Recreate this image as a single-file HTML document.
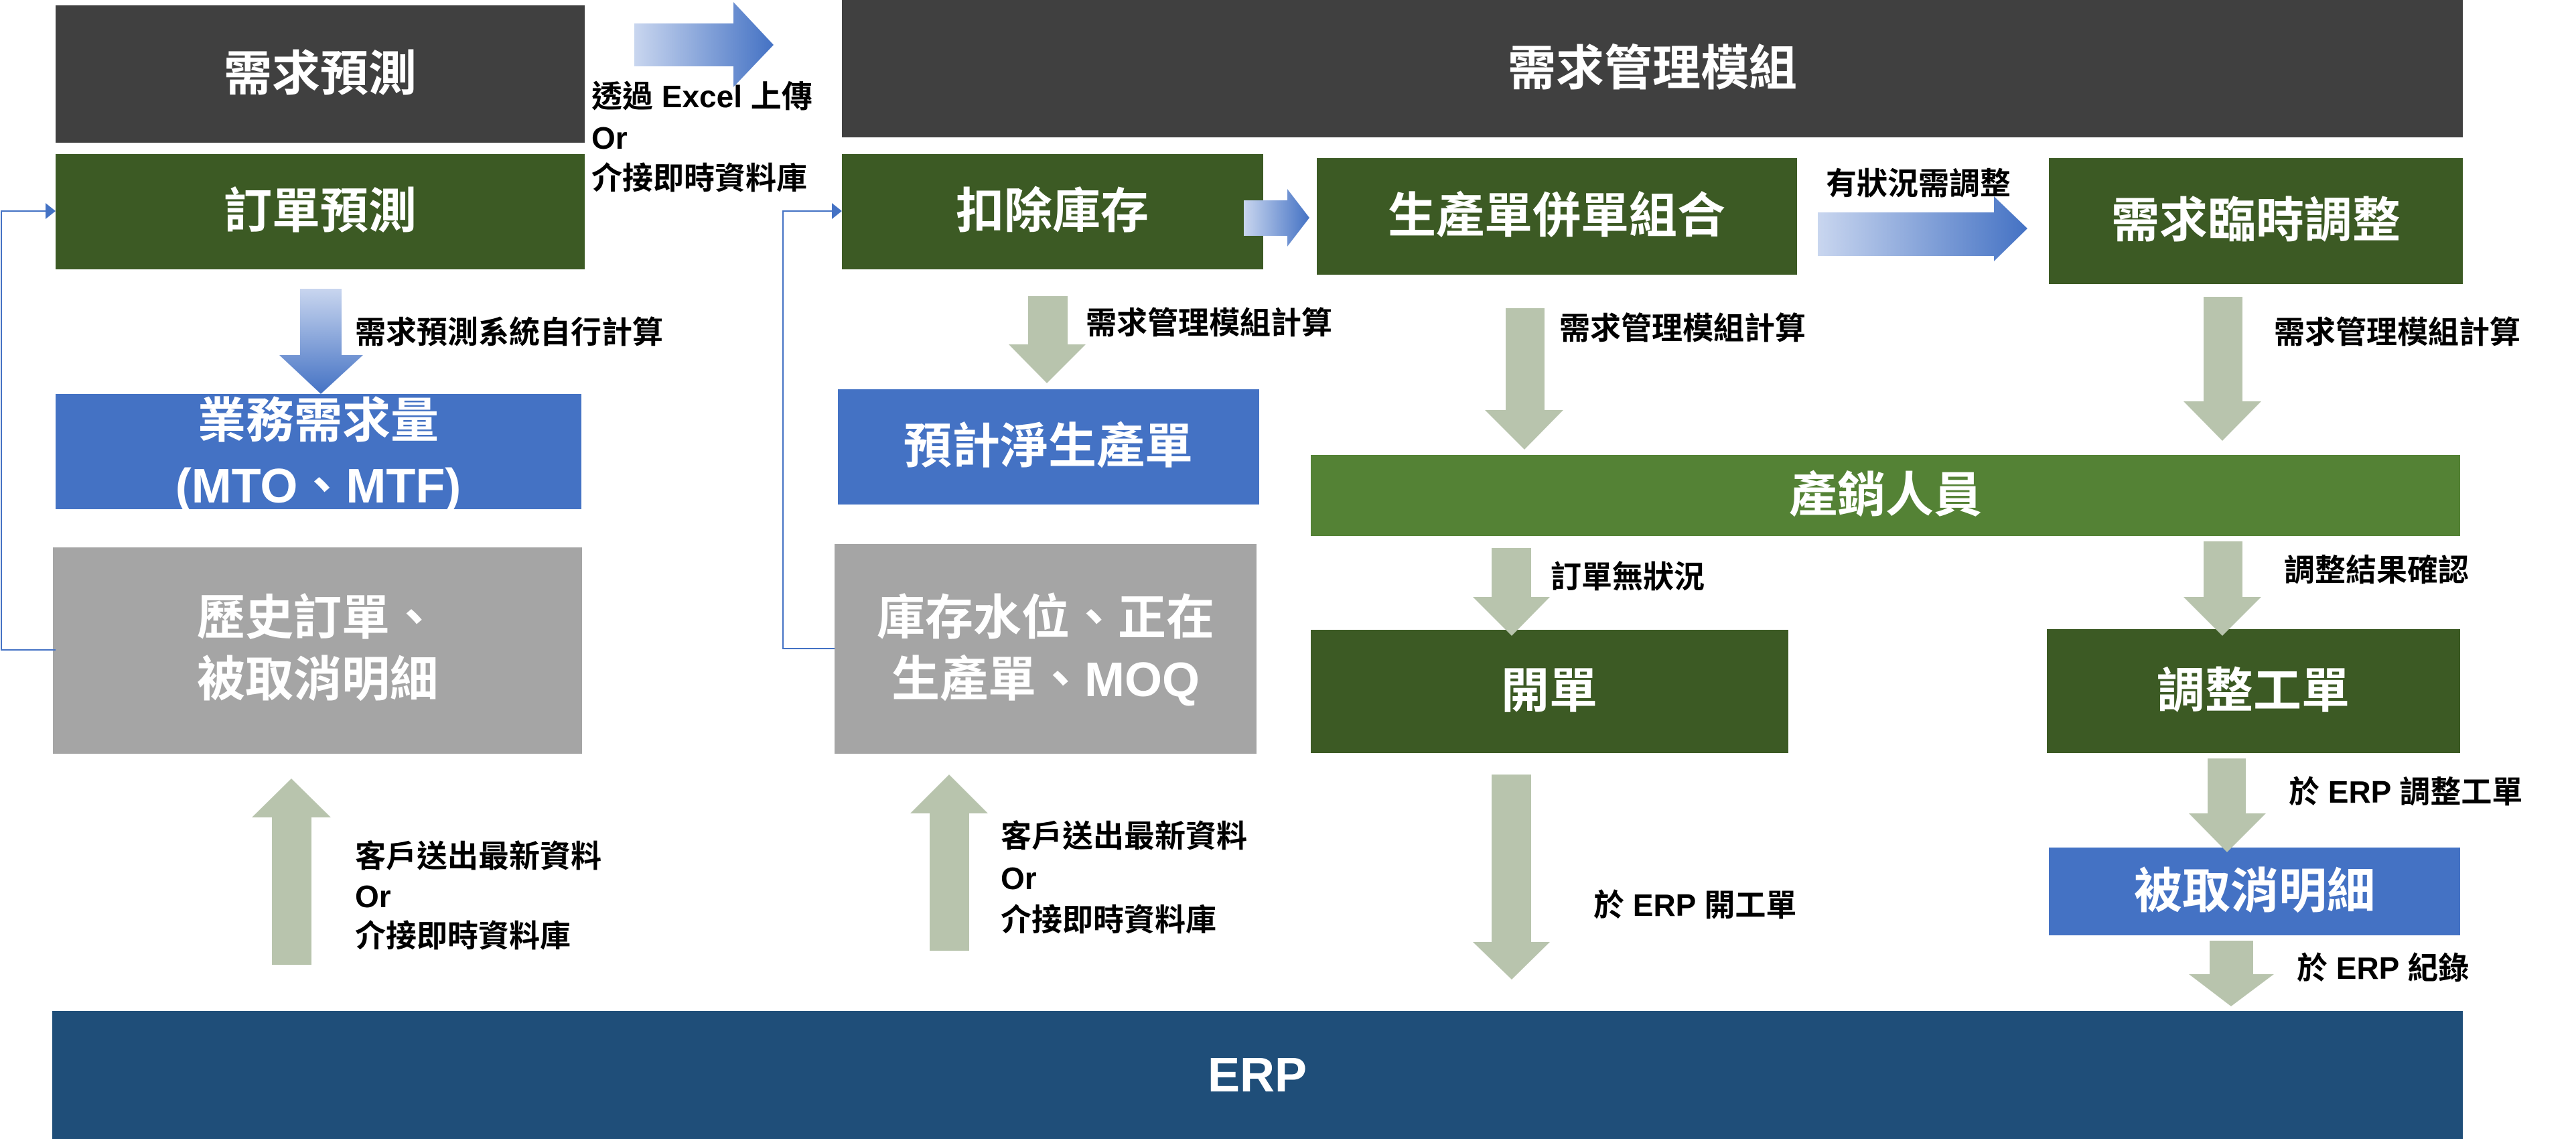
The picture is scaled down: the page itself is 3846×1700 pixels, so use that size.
<!DOCTYPE html>
<html><head><meta charset="utf-8"><style>
html,body{margin:0;padding:0;background:#fff;}
svg{display:block}
text{font-family:"Liberation Sans","Noto Sans CJK TC",sans-serif;font-weight:bold;}
.w{fill:#fff;font-size:72px;text-anchor:middle;dominant-baseline:central}
.l{fill:#000;font-size:46px;dominant-baseline:central}
</style></head><body>
<svg width="3846" height="1700" viewBox="0 0 3846 1700" xmlns="http://www.w3.org/2000/svg">
<defs>
<linearGradient id="gh" x1="0" y1="0" x2="1" y2="0"><stop offset="0" stop-color="#c9d6ef"/><stop offset="1" stop-color="#4472c4"/></linearGradient>
<linearGradient id="gv" x1="0" y1="0" x2="0" y2="1"><stop offset="0" stop-color="#c9d6ef"/><stop offset="1" stop-color="#4472c4"/></linearGradient>
</defs>
<!-- boxes -->
<rect x="83" y="8" width="790" height="205" fill="#404040"/>
<rect x="1257" y="0" width="2420" height="205" fill="#404040"/>
<rect x="83" y="230" width="790" height="172" fill="#3c5a24"/>
<rect x="1257" y="230" width="629" height="172" fill="#3c5a24"/>
<rect x="1966" y="236" width="717" height="174" fill="#3c5a24"/>
<rect x="3059" y="236" width="618" height="188" fill="#3c5a24"/>
<rect x="83" y="588" width="785" height="172" fill="#4472c4"/>
<rect x="1251" y="581" width="629" height="172" fill="#4472c4"/>
<rect x="1957" y="679" width="1716" height="121" fill="#548235"/>
<rect x="79" y="817" width="790" height="308" fill="#a5a5a5"/>
<rect x="1246" y="812" width="630" height="313" fill="#a5a5a5"/>
<rect x="1957" y="940" width="713" height="184" fill="#3c5a24"/>
<rect x="3056" y="939" width="617" height="185" fill="#3c5a24"/>
<rect x="3059" y="1265" width="614" height="131" fill="#4472c4"/>
<rect x="78" y="1509" width="3599" height="191" fill="#1f4e79"/>

<!-- connectors -->
<polyline points="83,970 2,970 2,315 70,315" fill="none" stroke="#4472c4" stroke-width="2"/>
<polygon points="83,315 68,303 68,327" fill="#4472c4"/>
<polyline points="1246,968 1169,968 1169,315 1244,315" fill="none" stroke="#4472c4" stroke-width="2"/>
<polygon points="1257,315 1242,303 1242,327" fill="#4472c4"/>

<!-- blue gradient arrows -->
<polygon points="947,35 1095,35 1095,3 1155,67 1095,130 1095,99 947,99" fill="url(#gh)"/>
<polygon points="1857,299 1922,299 1922,282 1955,325 1922,368 1922,352 1857,352" fill="url(#gh)"/>
<polygon points="2714,317 2977,317 2977,293 3027,341 2977,390 2977,382 2714,382" fill="url(#gh)"/>
<polygon points="448,431 510,431 510,530 542,530 479,588 417,530 448,530" fill="url(#gv)"/>

<!-- gray arrows -->
<g fill="#b8c4ad">
<polygon points="1535,442 1594,442 1594,514 1621,514 1563,572 1506,514 1535,514"/>
<polygon points="2248,460 2306,460 2306,612 2334,612 2276,671 2217,612 2248,612"/>
<polygon points="3290,443 3348,443 3348,599 3376,599 3318,658 3260,599 3290,599"/>
<polygon points="2227,818 2286,818 2286,891 2314,891 2257,949 2199,891 2227,891"/>
<polygon points="3290,808 3348,808 3348,891 3376,891 3318,949 3260,891 3290,891"/>
<polygon points="2227,1156 2286,1156 2286,1406 2314,1406 2257,1462 2199,1406 2227,1406"/>
<polygon points="3296,1132 3353,1132 3353,1214 3383,1214 3325,1272 3268,1214 3296,1214"/>
<polygon points="3299,1404 3364,1404 3364,1454 3395,1454 3331,1502 3268,1454 3299,1454"/>
<polygon points="406,1440 465,1440 465,1220 494,1220 435,1162 376,1220 406,1220"/>
<polygon points="1388,1419 1447,1419 1447,1214 1475,1214 1417,1156 1359,1214 1388,1214"/>
</g>

<!-- box text -->
<text class="w" x="478" y="111">需求預測</text>
<text class="w" x="2467" y="103">需求管理模組</text>
<text class="w" x="478" y="316">訂單預測</text>
<text class="w" x="1571" y="316">扣除庫存</text>
<text class="w" x="2324" y="323">生產單併單組合</text>
<text class="w" x="3368" y="330">需求臨時調整</text>
<text class="w" x="475" y="629">業務需求量</text>
<text class="w" x="475" y="726">(MTO、MTF)</text>
<text class="w" x="1565" y="667">預計淨生產單</text>
<text class="w" x="2815" y="740">產銷人員</text>
<text class="w" x="474" y="923">歷史訂單、</text>
<text class="w" x="474" y="1015">被取消明細</text>
<text class="w" x="1561" y="923">庫存水位、正在</text>
<text class="w" x="1561" y="1015">生產單、MOQ</text>
<text class="w" x="2313" y="1032">開單</text>
<text class="w" x="3364" y="1032">調整工單</text>
<text class="w" x="3366" y="1331">被取消明細</text>
<text class="w" x="1877" y="1605">ERP</text>

<!-- labels -->
<text class="l" x="883" y="144">透過 Excel 上傳</text>
<text class="l" x="883" y="206">Or</text>
<text class="l" x="883" y="266">介接即時資料庫</text>
<text class="l" x="530" y="496">需求預測系統自行計算</text>
<text class="l" x="1621" y="482">需求管理模組計算</text>
<text class="l" x="2328" y="490">需求管理模組計算</text>
<text class="l" x="3395" y="496">需求管理模組計算</text>
<text class="l" x="2726" y="274">有狀況需調整</text>
<text class="l" x="2315" y="861">訂單無狀況</text>
<text class="l" x="3410" y="851">調整結果確認</text>
<text class="l" x="2379" y="1351">於 ERP 開工單</text>
<text class="l" x="3417" y="1182">於 ERP 調整工單</text>
<text class="l" x="3429" y="1445">於 ERP 紀錄</text>
<text class="l" x="530" y="1278">客戶送出最新資料</text>
<text class="l" x="530" y="1338">Or</text>
<text class="l" x="530" y="1397">介接即時資料庫</text>
<text class="l" x="1494" y="1248">客戶送出最新資料</text>
<text class="l" x="1494" y="1311">Or</text>
<text class="l" x="1494" y="1373">介接即時資料庫</text>
</svg>
</body></html>
